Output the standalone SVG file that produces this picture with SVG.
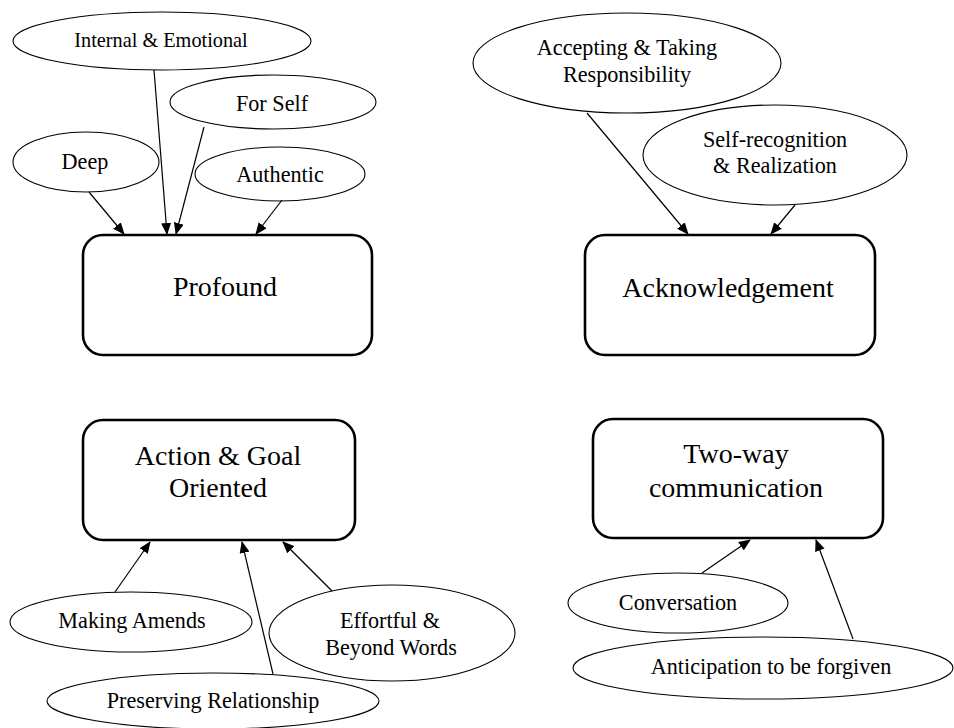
<svg xmlns="http://www.w3.org/2000/svg" width="954" height="728" viewBox="0 0 954 728">
<style>
.bg{fill:#fff}
.box{fill:#fff;stroke:#000;stroke-width:2.6}
.ell{fill:#fff;stroke:#000;stroke-width:1.1}
text{font-family:'Liberation Serif','DejaVu Serif',serif;fill:#000;text-anchor:middle}
.bt{font-size:28px}
.et{font-size:22.2px}
.sm{font-size:20.3px}
.c{stroke:#000;stroke-width:1.2;fill:none;marker-end:url(#ah)}
</style>
<defs>
<marker id="ah" markerWidth="12" markerHeight="10" refX="11" refY="5" orient="auto" markerUnits="userSpaceOnUse">
<path d="M0,0 L12,5 L0,10 z" fill="#000"/>
</marker>
</defs>
<rect class="bg" x="0" y="0" width="954" height="728"/>

<g id="profound"><rect class="box" x="83" y="235" width="289" height="120" rx="20"/><text class="bt" x="225" y="296">Profound</text></g>
<g id="acknowledgement"><rect class="box" x="585" y="235" width="290" height="120" rx="20"/><text class="bt" x="728" y="297">Acknowledgement</text></g>
<g id="action"><rect class="box" x="83" y="420" width="272" height="120" rx="20"/><text class="bt" x="218" y="465">Action &amp; Goal</text><text class="bt" x="218" y="497">Oriented</text></g>
<g id="twoway"><rect class="box" x="593" y="419" width="290" height="119" rx="20"/><text class="bt" x="736" y="463">Two-way</text><text class="bt" x="736" y="497">communication</text></g>

<g id="internal"><ellipse class="ell" cx="162" cy="41" rx="149" ry="29"/><text class="sm" x="161" y="47">Internal &amp; Emotional</text></g>
<g id="forself"><ellipse class="ell" cx="273" cy="102" rx="103" ry="27"/><text class="et" x="272" y="111">For Self</text></g>
<g id="deep"><ellipse class="ell" cx="86" cy="162" rx="73" ry="30"/><text class="et" x="85" y="169">Deep</text></g>
<g id="authentic"><ellipse class="ell" cx="280" cy="174" rx="85" ry="27"/><text class="et" x="280" y="182">Authentic</text></g>

<g id="accepting"><ellipse class="ell" cx="627" cy="63" rx="154" ry="50"/><text class="et" x="627" y="55">Accepting &amp; Taking</text><text class="et" x="627" y="82">Responsibility</text></g>
<g id="selfrec"><ellipse class="ell" cx="775" cy="155" rx="132" ry="50"/><text class="et" x="775" y="147">Self-recognition</text><text class="et" x="775" y="173">&amp; Realization</text></g>

<g id="amends"><ellipse class="ell" cx="131" cy="622" rx="121" ry="30"/><text class="et" x="132" y="628">Making Amends</text></g>
<g id="effortful"><ellipse class="ell" cx="392" cy="633" rx="123" ry="48"/><text class="et" x="390" y="628">Effortful &amp;</text><text class="et" x="391" y="655">Beyond Words</text></g>
<g id="preserving"><ellipse class="ell" cx="213" cy="701" rx="166" ry="28"/><text class="et" x="213" y="708">Preserving Relationship</text></g>

<g id="conversation"><ellipse class="ell" cx="678" cy="603" rx="110" ry="30"/><text class="et" x="678" y="610">Conversation</text></g>
<g id="anticipation"><ellipse class="ell" cx="763" cy="668" rx="190" ry="31"/><text class="et" x="771" y="674">Anticipation to be forgiven</text></g>

<g id="connectors">
<line class="c" x1="89" y1="192" x2="124" y2="234"/>
<line class="c" x1="154" y1="70" x2="167" y2="234"/>
<line class="c" x1="204" y1="127" x2="176" y2="234"/>
<line class="c" x1="282" y1="200" x2="256" y2="234"/>
<line class="c" x1="587" y1="113" x2="688" y2="234"/>
<line class="c" x1="795" y1="205" x2="771" y2="234"/>
<line class="c" x1="115" y1="592" x2="150" y2="542"/>
<line class="c" x1="273" y1="674" x2="242" y2="542"/>
<line class="c" x1="332" y1="591" x2="283" y2="542"/>
<line class="c" x1="702" y1="573" x2="750" y2="540"/>
<line class="c" x1="853" y1="639" x2="816" y2="540"/>
</g>
</svg>
